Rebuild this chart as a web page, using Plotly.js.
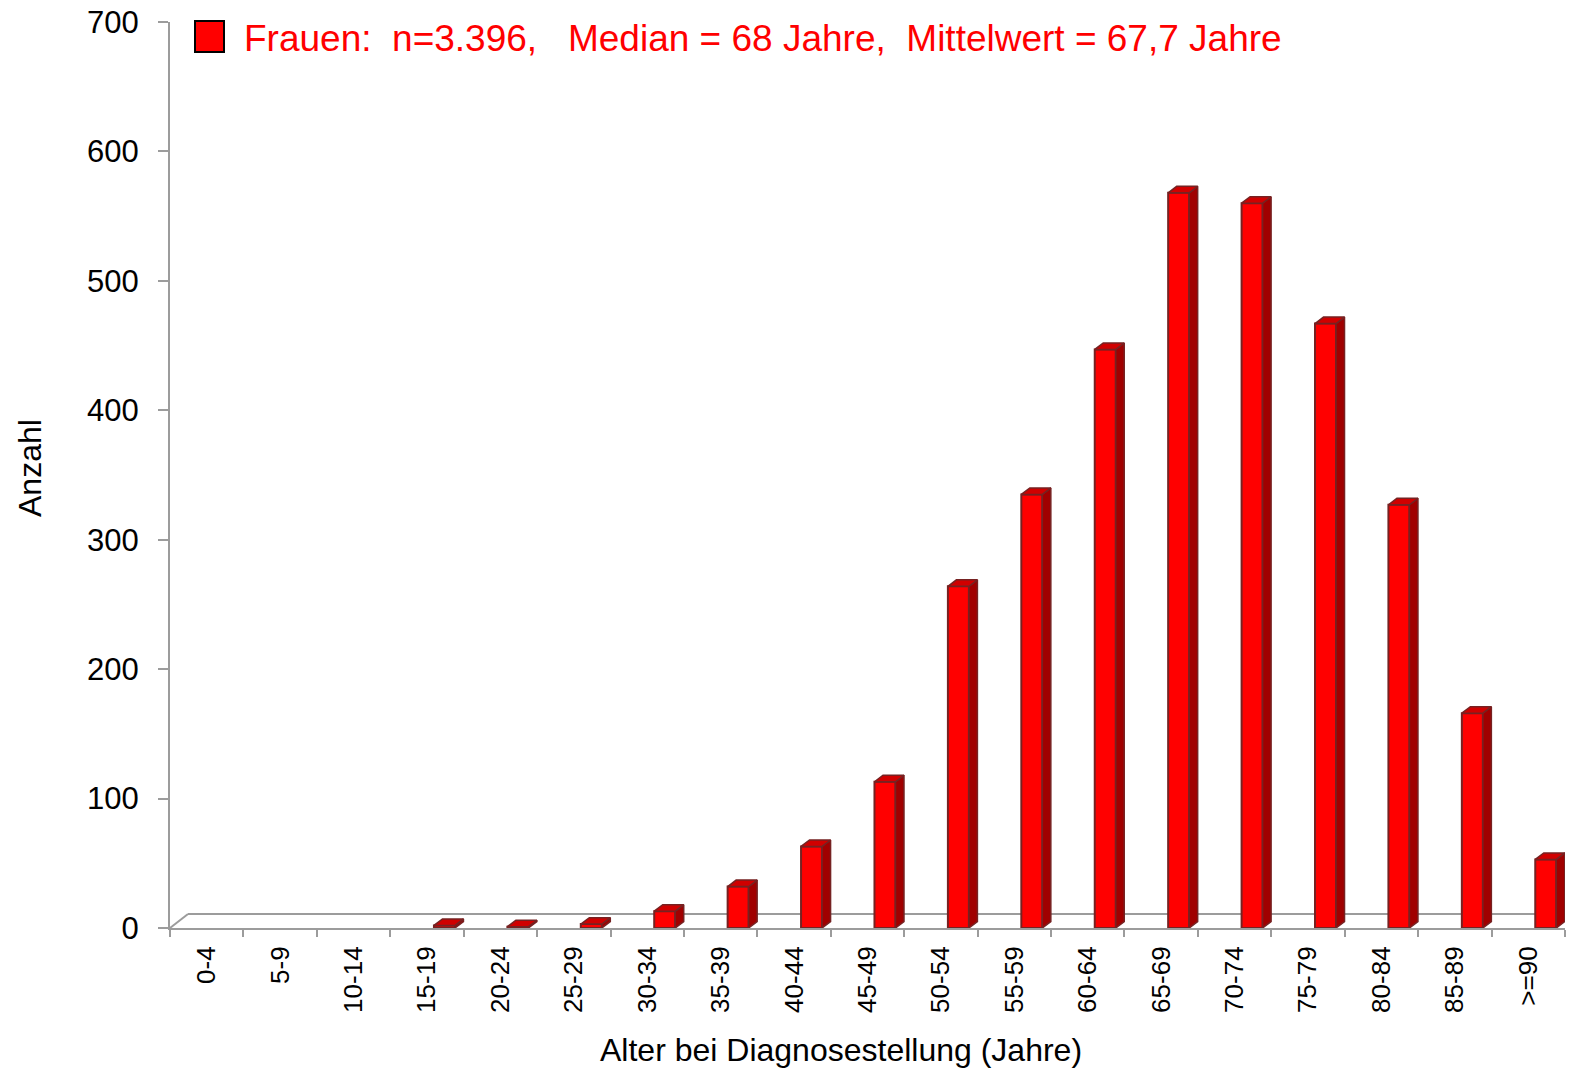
<!DOCTYPE html>
<html>
<head>
<meta charset="utf-8">
<script src="https://cdn.plot.ly/plotly-3.0.1.min.js"></script>
<style>html,body{margin:0;padding:0;background:#fff;}#chart{width:1569px;height:1070px;}</style>
</head>
<body>
<div id="chart"></div>
<script>
// ---- data ----
const categories = ['0-4','5-9','10-14','15-19','20-24','25-29','30-34','35-39','40-44','45-49','50-54','55-59','60-64','65-69','70-74','75-79','80-84','85-89','>=90'];
const counts = [0,0,0,2,1,3,13,32,63,113,264,335,447,568,560,467,327,166,53];
const legendText = 'Frauen:  n=3.396,   Median = 68 Jahre,  Mittelwert = 67,7 Jahre';
const xTitle = 'Alter bei Diagnosestellung (Jahre)';
const yTitle = 'Anzahl';
const yTicks = [0,100,200,300,400,500,600,700];

// ---- styling / 3D geometry (in axis units) ----
const FONT = 'Arial, "Liberation Sans", sans-serif';
const GRAY = '#9c9c9c';
const RED = '#ff0000', TOP = '#d00000', SIDE = '#a00000', EDGE = '#762222';
const shift = 0.238, bw = 0.286, ddx = 0.116, ddy = 5.0;

const idx = categories.map((c, i) => i);
const xs = idx.map(i => i + shift);
const ys = counts.map(v => v > 0 ? v : null);

const topX = [], topY = [], sideX = [], sideY = [];
counts.forEach((v, i) => {
  if (!(v > 0)) return;
  const xl = i + shift - bw / 2, xr = i + shift + bw / 2;
  topX.push(xl, xr, xr + ddx, xl + ddx, xl, null);
  topY.push(v, v, v + ddy, v + ddy, v, null);
  sideX.push(xr, xr + ddx, xr + ddx, xr, xr, null);
  sideY.push(0, ddy, v + ddy, v, 0, null);
});

const traces = [
  {type:'scatter', x: sideX, y: sideY, mode:'lines', fill:'toself', fillcolor: SIDE,
   line:{color: EDGE, width: 1.5}, hoverinfo:'skip', showlegend:false},
  {type:'scatter', x: topX, y: topY, mode:'lines', fill:'toself', fillcolor: TOP,
   line:{color: EDGE, width: 1.5}, hoverinfo:'skip', showlegend:false},
  {type:'bar', x: xs, y: ys, width: bw, marker:{color: RED, line:{color: EDGE, width: 2}},
   name:'Frauen', showlegend:false}
];

const W = 1569, H = 1070, mL = 170, mR = 4, mT = 22, mB = 142;
const pw = W - mL - mR, ph = H - mT - mB;

const layout = {
  width: W, height: H,
  margin: {l: mL, r: mR, t: mT, b: mB, pad: 0},
  paper_bgcolor: '#fff', plot_bgcolor: '#fff',
  font: {family: FONT, color: '#000'},
  showlegend: false,
  bargap: 0,
  xaxis: {
    type: 'linear', range: [-0.5, categories.length - 0.5], fixedrange: true,
    tickmode: 'array', tickvals: idx, ticktext: categories, tickangle: -90,
    ticks: '', showgrid: false, zeroline: false,
    showline: true, linecolor: GRAY, linewidth: 2,
    tickfont: {family: FONT, size: 26, color: '#000'},
    ticklabelstandoff: 6,
    minor: {tickmode: 'array', tickvals: idx.map(i => i - 0.5).concat([categories.length - 0.5]),
            ticks: 'outside', ticklen: 7, tickcolor: GRAY, tickwidth: 2, showgrid: false}
  },
  yaxis: {
    range: [0, 700], fixedrange: true,
    tickmode: 'array', tickvals: yTicks,
    ticks: 'outside', ticklen: 10, tickcolor: GRAY, tickwidth: 2,
    showgrid: false, zeroline: false,
    showline: true, linecolor: GRAY, linewidth: 2,
    tickfont: {family: FONT, size: 31, color: '#000'},
    ticklabelstandoff: 13
  },
  shapes: [
    {type:'line', xref:'paper', yref:'paper', x0: 18/pw, y0: 14/ph, x1: 1, y1: 14/ph,
     line:{color: GRAY, width: 2}, layer:'below'},
    {type:'line', xref:'paper', yref:'paper', x0: 0, y0: 0, x1: 18/pw, y1: 14/ph,
     line:{color: GRAY, width: 2}, layer:'below'},
    {type:'rect', xref:'paper', yref:'paper', x0: 25/pw, x1: 54/pw, y0: 1 - 30/ph, y1: 1 + 1/ph,
     fillcolor: RED, line:{color:'#000', width: 2}}
  ],
  annotations: [
    {xref:'paper', yref:'paper', x: 72/pw, y: 1 - 17/ph, xanchor:'left', yanchor:'middle',
     text: legendText, showarrow:false, font:{family: FONT, size: 37, color: RED}},
    {xref:'paper', yref:'paper', x: (841 - mL)/pw, y: -(1050 - (H - mB))/ph, xanchor:'center', yanchor:'middle',
     text: xTitle, showarrow:false, font:{family: FONT, size: 32, color: '#000'}},
    {xref:'paper', yref:'paper', x: (30 - mL)/pw, y: ((H - mB) - 468)/ph, xanchor:'center', yanchor:'middle',
     textangle: -90, text: yTitle, showarrow:false, font:{family: FONT, size: 32, color: '#000'}}
  ]
};

Plotly.newPlot('chart', traces, layout, {displayModeBar: false, staticPlot: true});
</script>
</body>
</html>
